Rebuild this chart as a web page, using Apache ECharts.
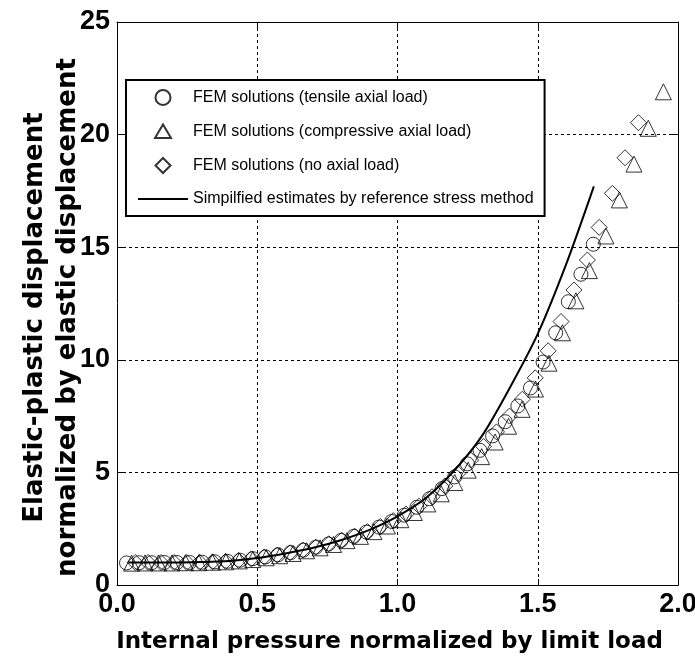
<!DOCTYPE html>
<html>
<head>
<meta charset="utf-8">
<script src="https://cdn.jsdelivr.net/npm/echarts@6.0.0/dist/echarts.min.js"></script>
<style>
  html, body { margin: 0; padding: 0; background: #fff; }
  #chart { width: 695px; height: 656px; }
</style>
</head>
<body>
<div id="chart"></div>
<script>
// Normalized internal pressure (x) vs. normalized elastic-plastic displacement (y)

// FEM solutions, tensile axial load
const tensileX = [0.034, 0.079, 0.124, 0.169, 0.214, 0.259, 0.304, 0.349, 0.394, 0.439,
  0.484, 0.529, 0.574, 0.619, 0.664, 0.709, 0.754, 0.799, 0.844, 0.889,
  0.934, 0.979, 1.024, 1.069, 1.114, 1.159, 1.204, 1.249, 1.294, 1.339,
  1.384, 1.429, 1.474, 1.519, 1.564, 1.609, 1.654, 1.698];
const tensileY = [0.98, 0.99, 0.99, 1.0, 1.0, 1.0, 1.01, 1.03, 1.05, 1.1,
  1.17, 1.25, 1.34, 1.44, 1.55, 1.68, 1.82, 1.98, 2.16, 2.35,
  2.57, 2.82, 3.1, 3.45, 3.83, 4.28, 4.8, 5.38, 5.98, 6.62,
  7.25, 7.95, 8.75, 9.9, 11.2, 12.58, 13.8, 15.13];

// FEM solutions, compressive axial load
const compressiveX = [0.052, 0.1, 0.148, 0.196, 0.244, 0.292, 0.34, 0.388, 0.436, 0.484,
  0.532, 0.58, 0.628, 0.676, 0.724, 0.772, 0.82, 0.868, 0.916, 0.964,
  1.012, 1.06, 1.108, 1.156, 1.204, 1.252, 1.3, 1.348, 1.396, 1.444,
  1.492, 1.54, 1.588, 1.636, 1.684, 1.743, 1.791, 1.843, 1.894, 1.948];
const compressiveY = [0.97, 0.98, 0.98, 0.98, 0.99, 0.99, 1.01, 1.03, 1.07, 1.13,
  1.21, 1.3, 1.4, 1.52, 1.65, 1.8, 1.97, 2.16, 2.37, 2.62,
  2.9, 3.22, 3.6, 4.05, 4.55, 5.1, 5.7, 6.35, 7.05, 7.8,
  8.7, 9.85, 11.2, 12.62, 13.96, 15.5, 17.1, 18.69, 20.28, 21.9];

// FEM solutions, no axial load
const noAxialX = [0.065, 0.111, 0.157, 0.203, 0.249, 0.295, 0.341, 0.387, 0.433, 0.479,
  0.525, 0.571, 0.617, 0.663, 0.709, 0.755, 0.801, 0.847, 0.893, 0.939,
  0.985, 1.031, 1.077, 1.123, 1.169, 1.215, 1.261, 1.307, 1.353, 1.399,
  1.445, 1.491, 1.537, 1.583, 1.629, 1.677, 1.719, 1.766, 1.811, 1.859];
const noAxialY = [1.0, 1.0, 1.0, 1.0, 1.0, 1.01, 1.03, 1.05, 1.09, 1.16,
  1.24, 1.33, 1.43, 1.55, 1.68, 1.83, 1.99, 2.17, 2.37, 2.6,
  2.86, 3.15, 3.5, 3.92, 4.4, 4.95, 5.55, 6.15, 6.8, 7.5,
  8.25, 9.2, 10.4, 11.7, 13.1, 14.43, 15.88, 17.39, 18.97, 20.53];

// Simplified estimates by the reference stress method
const refX = [0.04, 0.1, 0.2, 0.3, 0.4, 0.5, 0.6, 0.7, 0.8, 0.9,
  1.0, 1.1, 1.2, 1.3, 1.4, 1.5, 1.6, 1.7];
const refY = [1.0, 1.0, 1.0, 1.02, 1.07, 1.2, 1.4, 1.65, 2.0, 2.45,
  3.05, 3.85, 5.05, 6.6, 8.75, 11.15, 14.2, 17.7];

const xTicks = [0, 0.5, 1.0, 1.5, 2.0];
const yTicks = [0, 5, 10, 15, 20, 25];

const seriesNames = [
  'FEM solutions (tensile axial load)',
  'FEM solutions (compressive axial load)',
  'FEM solutions (no axial load)',
  'Simpilfied estimates by reference stress method'
];

const zip = (xs, ys) => xs.map((x, i) => [x, ys[i]]);

const hollow = {
  color: 'rgba(255,255,255,0)',
  borderColor: '#000',
  borderWidth: 1
};

// Legend marker outlines, drawn inside a 50x15 box so they keep their proportions
const legendTriangle = 'path://M0,0M50,15M17,14L25,0.5L33,14Z';
const legendDiamond = 'path://M0,0M50,15M25,0L32.5,7.5L25,15L17.5,7.5Z';

const tickFont = { fontFamily: 'Liberation Sans, Arial, sans-serif', fontWeight: 'bold', fontSize: 27, color: '#000' };
const titleFamily = 'DejaVu Sans, Liberation Sans, Arial, sans-serif';

const axisLine = { show: true, onZero: false, lineStyle: { color: '#000', width: 1 } };
const innerTick = { show: true, inside: true, length: 6, lineStyle: { color: '#000', width: 1 } };
const grid = { show: true, lineStyle: { color: '#000', width: 1, type: [3, 3] } };

const xMin = xTicks[0], xMax = xTicks[xTicks.length - 1], xStep = xTicks[1] - xTicks[0];
const yMin = yTicks[0], yMax = yTicks[yTicks.length - 1], yStep = yTicks[1] - yTicks[0];

const chart = echarts.init(document.getElementById('chart'), null, { renderer: 'canvas' });

chart.setOption({
  animation: false,
  backgroundColor: '#fff',
  grid: { left: 117, right: 17, top: 22, bottom: 71, containLabel: false, outerBoundsMode: 'none' },
  legend: {
    orient: 'vertical',
    left: 126,
    top: 80,
    data: [
      { name: seriesNames[0], icon: 'circle' },
      { name: seriesNames[1], icon: legendTriangle },
      { name: seriesNames[2], icon: legendDiamond },
      { name: seriesNames[3], itemStyle: { opacity: 0 } }
    ],
    symbolKeepAspect: true,
    itemWidth: 50,
    itemHeight: 15,
    itemGap: 17,
    padding: [9, 11, 9, 11],
    borderColor: '#000',
    borderWidth: 2,
    backgroundColor: '#fff',
    textStyle: { fontFamily: 'Liberation Sans, Arial, sans-serif', fontSize: 16, color: '#000' },
    selectedMode: false
  },
  xAxis: [
    {
      type: 'value', min: xMin, max: xMax, interval: xStep, position: 'bottom',
      axisLine: axisLine, axisTick: innerTick, splitLine: grid,
      axisLabel: Object.assign({ margin: 6, formatter: v => v.toFixed(1) }, tickFont),
      name: 'Internal pressure normalized by limit load',
      nameLocation: 'middle', nameGap: 46, nameMoveOverlap: false,
      nameTextStyle: { fontFamily: titleFamily, fontWeight: 'bold', fontSize: 23, color: '#000', padding: [0, 16, 0, 0] }
    },
    {
      type: 'value', min: xMin, max: xMax, interval: xStep, position: 'top',
      axisLine: axisLine, axisTick: innerTick, splitLine: { show: false },
      axisLabel: { show: false }
    }
  ],
  yAxis: [
    {
      type: 'value', min: yMin, max: yMax, interval: yStep, position: 'left',
      axisLine: axisLine, axisTick: innerTick, splitLine: grid,
      axisLabel: Object.assign({ margin: 7 }, tickFont),
      name: 'Elastic-plastic displacement\nnormalized by elastic displacement',
      nameLocation: 'middle', nameGap: 32, nameMoveOverlap: false,
      nameTextStyle: {
        fontFamily: titleFamily, fontWeight: 'bold', fontSize: 26, lineHeight: 33, color: '#000',
        padding: [0, 28, 0, 0]
      }
    },
    {
      type: 'value', min: yMin, max: yMax, interval: yStep, position: 'right',
      axisLine: axisLine, axisTick: innerTick, splitLine: { show: false },
      axisLabel: { show: false }
    }
  ],
  series: [
    {
      name: seriesNames[0], type: 'scatter', symbol: 'circle', symbolSize: 14,
      itemStyle: hollow, data: zip(tensileX, tensileY), z: 3
    },
    {
      name: seriesNames[1], type: 'scatter', symbol: 'triangle', symbolSize: 16,
      itemStyle: hollow, data: zip(compressiveX, compressiveY), z: 3
    },
    {
      name: seriesNames[2], type: 'scatter', symbol: 'diamond', symbolSize: 16,
      itemStyle: hollow, data: zip(noAxialX, noAxialY), z: 3
    },
    {
      name: seriesNames[3], type: 'line', symbol: 'none', showSymbol: false, smooth: 0.3,
      lineStyle: { color: '#000', width: 2 }, itemStyle: { color: '#000' },
      data: zip(refX, refY), z: 4
    }
  ]
});
</script>
</body>
</html>
